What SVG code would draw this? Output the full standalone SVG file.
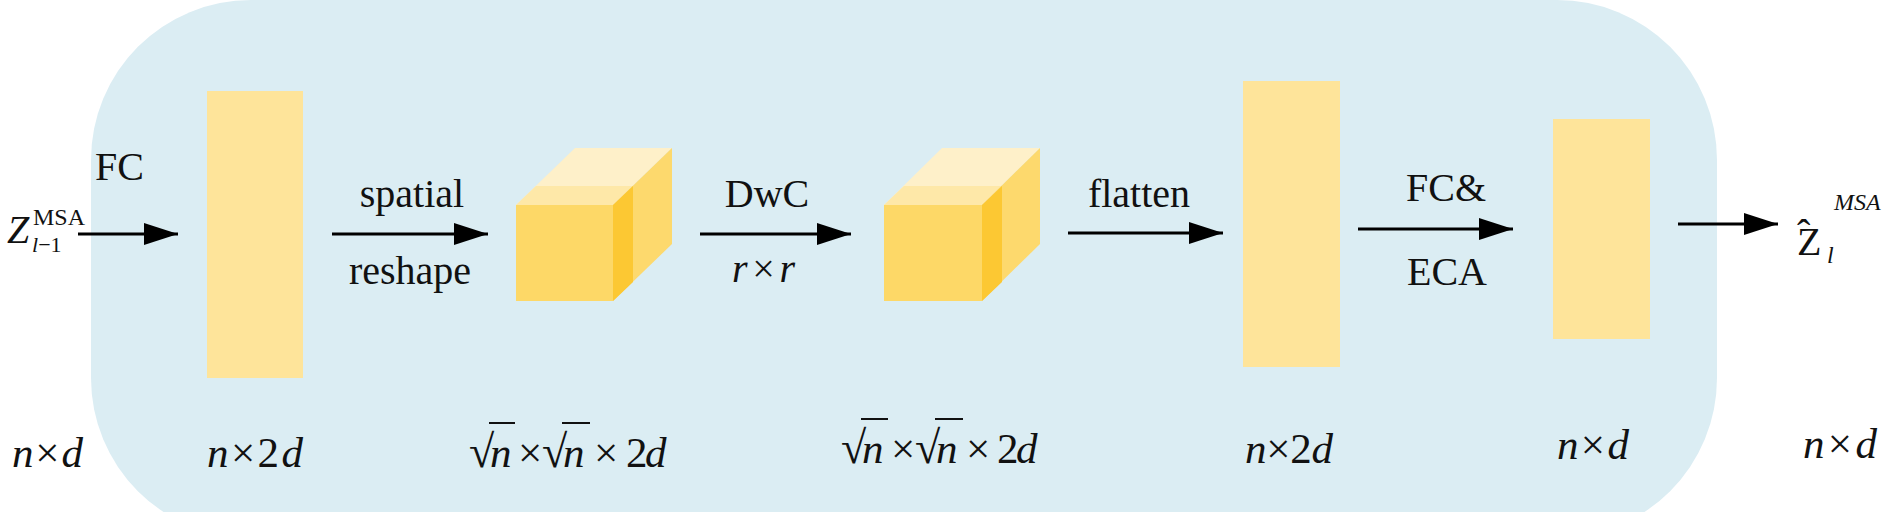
<svg xmlns="http://www.w3.org/2000/svg" width="1892" height="512" viewBox="0 0 1892 512">
<style>
text{font-family:"Liberation Serif","Times New Roman",serif;fill:#111;}
.t{font-size:40px;}
.b{font-size:43px;}
.i{font-style:italic;}
.bar{fill:#fee49a;}
.ctb{fill:#fef0c9;}
.ctf{fill:#fee8a8;}
.cf{fill:#fdd867;}
.cs{fill:#fdd96d;}
.cd{fill:#fcc833;}
.ln{stroke:#000;stroke-width:3;fill:none;}
.ov{stroke:#111;stroke-width:2;}
</style>
<defs>
<marker id="ah" markerUnits="userSpaceOnUse" markerWidth="34" markerHeight="22" refX="34" refY="11" orient="auto">
<path d="M0,0 L34,11 L0,22 z" fill="#000"/>
</marker>
</defs>
<rect id="panel" x="91" y="0" width="1626" height="538" rx="160" ry="160" fill="#dbedf3"/>

<g id="input">
<text class="t i" x="7" y="243">Z</text>
<text x="33" y="225" font-size="24">MSA</text>
<text x="32" y="252" font-size="22"><tspan font-style="italic">l</tspan>−1</text>
<text class="t" x="95" y="180">FC</text>
<text class="b" x="12" y="467" textLength="71" lengthAdjust="spacing"><tspan class="i">n</tspan>×<tspan class="i">d</tspan></text>
</g>

<g id="bar1">
<rect class="bar" x="207" y="91" width="96" height="287"/>
<text class="b" x="207" y="467" textLength="96" lengthAdjust="spacing"><tspan class="i">n</tspan>×2<tspan class="i">d</tspan></text>
</g>

<g id="cube1">
<polygon class="ctb" points="516,205 613,205 672,148 575,148"/>
<polygon class="ctf" points="516,205 613,205 633,186 536,186"/>
<rect class="cf" x="516" y="205" width="97" height="96"/>
<polygon class="cs" points="613,205 672,148 672,244 613,301"/>
<polygon class="cd" points="613,205 633,186 633,282 613,301"/>
<text class="b" y="467"><tspan x="469" font-size="46">√</tspan><tspan x="490" class="i">n</tspan><tspan x="518">×</tspan><tspan x="542" font-size="46">√</tspan><tspan x="563" class="i">n</tspan><tspan x="594">×</tspan><tspan x="626">2</tspan><tspan x="645" class="i">d</tspan></text>
<line class="ov" x1="489" y1="423" x2="515" y2="423"/>
<line class="ov" x1="562" y1="423" x2="590" y2="423"/>
</g>

<g id="cube2">
<polygon class="ctb" points="884,205 982,205 1040,148 942,148"/>
<polygon class="ctf" points="884,205 982,205 1002,186 904,186"/>
<rect class="cf" x="884" y="205" width="98" height="96"/>
<polygon class="cs" points="982,205 1040,148 1040,244 982,301"/>
<polygon class="cd" points="982,205 1002,186 1002,282 982,301"/>
<text class="b" y="463"><tspan x="841" font-size="46">√</tspan><tspan x="862" class="i">n</tspan><tspan x="891">×</tspan><tspan x="915" font-size="46">√</tspan><tspan x="936" class="i">n</tspan><tspan x="966">×</tspan><tspan x="997">2</tspan><tspan x="1016" class="i">d</tspan></text>
<line class="ov" x1="861" y1="419" x2="888" y2="419"/>
<line class="ov" x1="935" y1="419" x2="963" y2="419"/>
</g>

<g id="bar2">
<rect class="bar" x="1243" y="81" width="97" height="286"/>
<text class="b" x="1245" y="463" textLength="88" lengthAdjust="spacing"><tspan class="i">n</tspan>×2<tspan class="i">d</tspan></text>
</g>

<g id="bar3">
<rect class="bar" x="1553" y="119" width="97" height="220"/>
<text class="b" x="1557" y="459" textLength="72" lengthAdjust="spacing"><tspan class="i">n</tspan>×<tspan class="i">d</tspan></text>
</g>

<g id="output">
<text class="t" x="1797" y="255">Z</text>
<text class="t" x="1797" y="247">ˆ</text>
<text class="i" x="1827" y="263" font-size="24">l</text>
<text class="i" x="1834" y="210" font-size="24">MSA</text>
<text class="b" x="1803" y="458" textLength="74" lengthAdjust="spacing"><tspan class="i">n</tspan>×<tspan class="i">d</tspan></text>
</g>

<g id="connectors">
<line class="ln" x1="78" y1="234" x2="178" y2="234" marker-end="url(#ah)"/>
<line class="ln" x1="332" y1="234" x2="488" y2="234" marker-end="url(#ah)"/>
<line class="ln" x1="700" y1="234" x2="851" y2="234" marker-end="url(#ah)"/>
<line class="ln" x1="1068" y1="233" x2="1223" y2="233" marker-end="url(#ah)"/>
<line class="ln" x1="1358" y1="229" x2="1513" y2="229" marker-end="url(#ah)"/>
<line class="ln" x1="1678" y1="224" x2="1778" y2="224" marker-end="url(#ah)"/>
<text class="t" x="412" y="207" text-anchor="middle">spatial</text>
<text class="t" x="410" y="284" text-anchor="middle">reshape</text>
<text class="t" x="767" y="207" text-anchor="middle">DwC</text>
<text class="t" x="732" y="282" textLength="63" lengthAdjust="spacing"><tspan class="i">r</tspan>×<tspan class="i">r</tspan></text>
<text class="t" x="1139" y="207" text-anchor="middle">flatten</text>
<text class="t" x="1446" y="201" text-anchor="middle">FC&amp;</text>
<text class="t" x="1447" y="285" text-anchor="middle">ECA</text>
</g>
</svg>
